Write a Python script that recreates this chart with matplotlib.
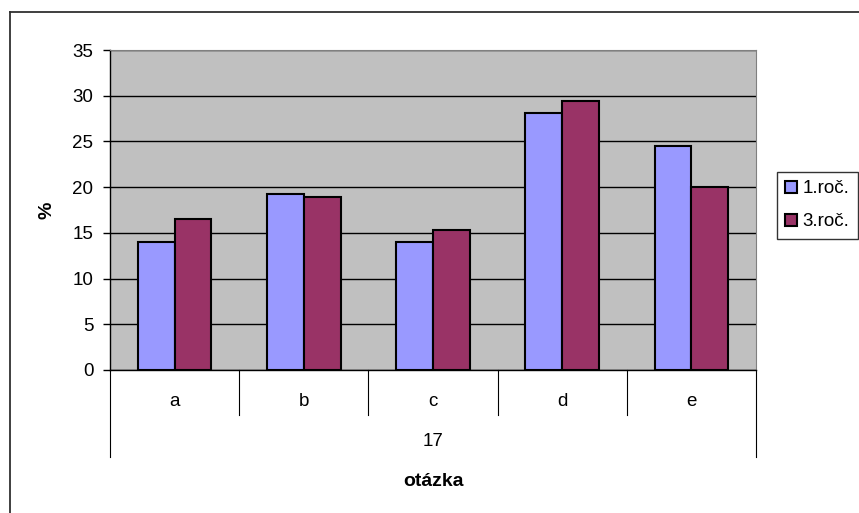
import matplotlib
matplotlib.use("Agg")
from matplotlib import pyplot as plt
import numpy as np

plt.rcParams['font.family'] = ['Liberation Sans', 'DejaVu Sans']

# data
categories = ["a", "b", "c", "d", "e"]
group_label = "17"
first_year = [14.0, 19.3, 14.0, 28.1, 24.5]
third_year = [16.5, 18.9, 15.3, 29.4, 20.0]
series_names = ["1.roč.", "3.roč."]
y_ticks = [0, 5, 10, 15, 20, 25, 30, 35]

W, H = 859, 513
fs = 13.5
fig = plt.figure(figsize=(W / 100, H / 100), dpi=100)
fig.patch.set_facecolor("white")

# outer chart border (only top and left edges fall inside the picture)
fig.add_artist(plt.Line2D([10 / W, 1], [1 - 12 / H, 1 - 12 / H], transform=fig.transFigure,
                          color="#303030", linewidth=1.3))
fig.add_artist(plt.Line2D([10 / W, 10 / W], [0, 1 - 12 / H], transform=fig.transFigure,
                          color="#303030", linewidth=1.3))

# plot area in pixels: x 110..756, y 50..370
ax = fig.add_axes([110 / W, (H - 370) / H, 646 / W, 320 / H])
ax.set_facecolor("#c0c0c0")

x = np.arange(len(categories))
bw = 0.285
ax.bar(x - bw / 2, first_year, bw, color="#9999ff", edgecolor="black", linewidth=1.5,
       label=series_names[0], zorder=3)
ax.bar(x + bw / 2, third_year, bw, color="#993366", edgecolor="black", linewidth=1.5,
       label=series_names[1], zorder=3)

ax.set_xlim(-0.5, len(categories) - 0.5)
ax.set_ylim(0, 35)
ax.set_yticks(y_ticks)
ax.tick_params(axis="y", direction="out", length=5, width=1, labelsize=fs, pad=7)
ax.set_xticks([])
ax.yaxis.grid(True, color="black", linewidth=1, zorder=0)
ax.set_axisbelow(True)

for s in ["top", "right"]:
    ax.spines[s].set_color("#808080")
for s in ["left", "bottom"]:
    ax.spines[s].set_color("black")
    ax.spines[s].set_linewidth(1)

# category labels and separators below the axis
trans = ax.get_xaxis_transform()
sep_short = -45 / 320
sep_long = -87 / 320
for i in range(len(categories) + 1):
    xb = i - 0.5
    bottom = sep_long if i in (0, len(categories)) else sep_short
    ax.plot([xb, xb], [0, bottom], color="black", linewidth=0.8, transform=trans, clip_on=False)
for i, c in enumerate(categories):
    ax.text(i, -31 / 320, c, transform=trans, ha="center", va="center", fontsize=fs)
ax.text((len(categories) - 1) / 2, -72 / 320, group_label, transform=trans,
        ha="center", va="center", fontsize=fs)
ax.text((len(categories) - 1) / 2, -111 / 320, "otázka", transform=trans,
        ha="center", va="center", fontsize=14, fontweight="bold")

ax.set_ylabel("%", fontsize=14, fontweight="bold", labelpad=12)

leg = fig.legend(loc="upper left", bbox_to_anchor=(777 / W, 1 - 172 / H), fontsize=fs,
                 frameon=True, fancybox=False, edgecolor="black", handlelength=0.6,
                 handleheight=0.6, handletextpad=0.3, borderpad=0.45, labelspacing=0.85,
                 borderaxespad=0)
leg.get_frame().set_linewidth(1)
for h in leg.legend_handles:
    h.set_linewidth(1.5)

fig.savefig("out.png", dpi=100)
